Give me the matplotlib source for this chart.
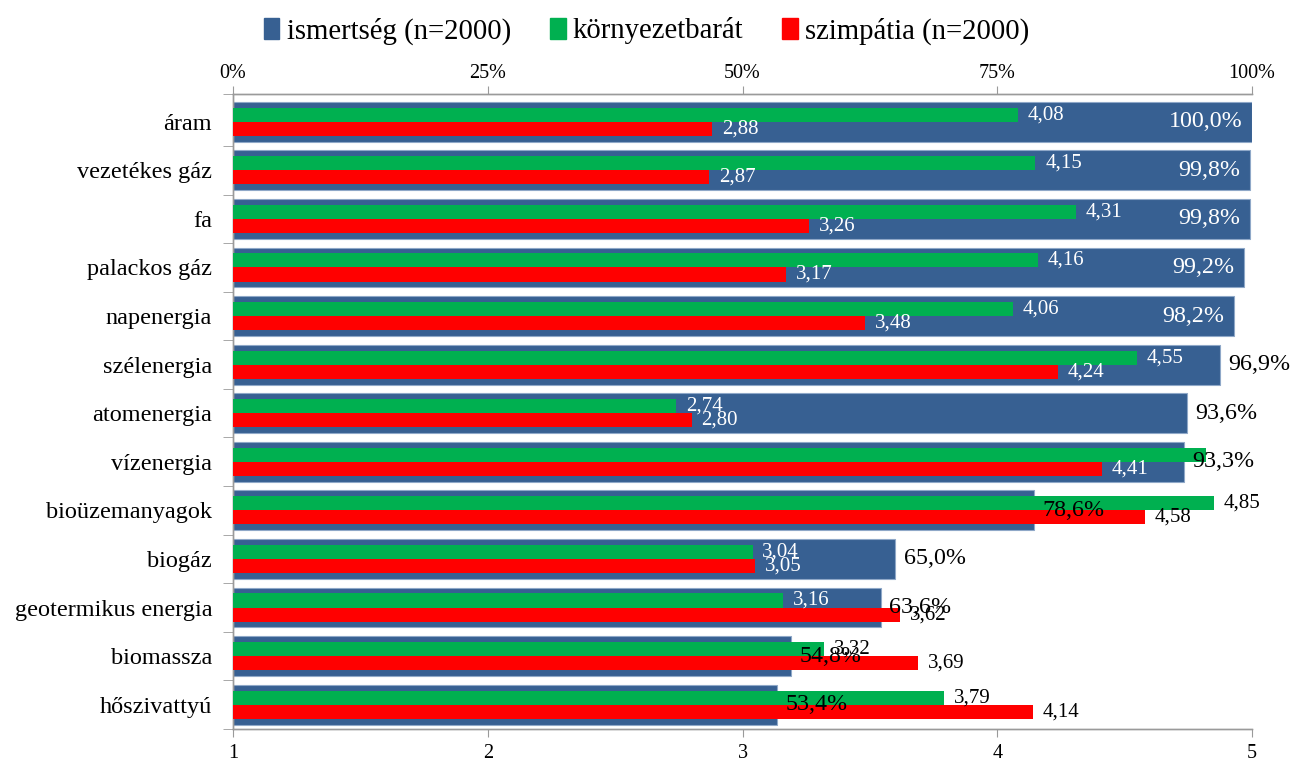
import matplotlib
matplotlib.use("Agg")
import matplotlib.pyplot as plt
import numpy as np

categories = ["áram", "vezetékes gáz", "fa", "palackos gáz", "napenergia",
              "szélenergia", "atomenergia", "vízenergia", "bioüzemanyagok",
              "biogáz", "geotermikus energia", "biomassza", "hőszivattyú"]
ismertseg = [100.0, 99.8, 99.8, 99.2, 98.2, 96.9, 93.6, 93.3, 78.6, 65.0, 63.6, 54.8, 53.4]
kornyezetbarat = [4.08, 4.15, 4.31, 4.16, 4.06, 4.55, 2.74, 4.82, 4.85, 3.04, 3.16, 3.32, 3.79]
szimpatia = [2.88, 2.87, 3.26, 3.17, 3.48, 4.24, 2.80, 4.41, 4.58, 3.05, 3.62, 3.69, 4.14]
green_label_shown = [True] * 7 + [False] + [True] * 5
pct_ticks = [0, 25, 50, 75, 100]
pct_ticklabels = ["0%", "25%", "50%", "75%", "100%"]
score_ticks = [1, 2, 3, 4, 5]

BLUE = "#376092"
GREEN = "#00B050"
RED = "#FF0000"
GRID = "#9a9a9a"

plt.rcParams['font.family'] = ['Liberation Serif', 'DejaVu Serif']

W, H = 1293, 760
fig = plt.figure(figsize=(W / 100, H / 100), dpi=100)
left, right, top, bottom = 233, 1252, 94, 729
ax = fig.add_axes([left / W, 1 - bottom / H, (right - left) / W, (bottom - top) / H])
ax2 = ax.twiny()

n = len(categories)
y = np.arange(n)
ytop = -0.57

# Blue bars on primary axis (top % scale)
ax.barh(y, ismertseg, height=0.82, color=BLUE, edgecolor="#8fa8c8", linewidth=0.8, zorder=2)
ax.set_xlim(0, 100)
ax.set_ylim(n - 0.5, ytop)

# Green / red on twin axis (bottom 1-5 scale)
ax2.barh(y - 0.145, [v - 1 for v in kornyezetbarat], left=1, height=0.29, color=GREEN, zorder=3)
ax2.barh(y + 0.145, [v - 1 for v in szimpatia], left=1, height=0.29, color=RED, zorder=3)
ax2.set_xlim(1, 5)
ax2.set_ylim(n - 0.5, ytop)

# Axis styling
ax.xaxis.tick_top()
ax.set_xticks(pct_ticks)
ax.set_xticklabels(pct_ticklabels)
ax.tick_params(axis='x', which='major', direction='out', length=6, color=GRID, labelsize=14.5, pad=2)
ax2.xaxis.tick_bottom()
ax2.set_xticks(score_ticks)
ax2.tick_params(axis='x', which='major', direction='out', length=6, color=GRID, labelsize=14.5, pad=5)

ax.set_yticks(y)
ax.set_yticklabels(categories, fontsize=17.5)
ax.tick_params(axis='y', which='major', length=0, pad=15)
ax.set_yticks([ytop] + [k + 0.5 for k in range(n)], minor=True)
ax.tick_params(axis='y', which='minor', direction='out', length=7, color=GRID)
ax2.tick_params(axis='y', left=False, labelleft=False, right=False, labelright=False)

for a in (ax, ax2):
    for s in a.spines.values():
        s.set_color(GRID)
        s.set_linewidth(1.0)
    a.spines['right'].set_visible(False)

ax2.patch.set_visible(False)

# Labels for green / red
def score_label(v):
    return f"{v:.2f}".replace('.', ',')

def pct_x(v):
    return 1 + v / 100 * 4

for i in range(n):
    blue_end = pct_x(ismertseg[i])
    if green_label_shown[i]:
        v = kornyezetbarat[i]
        col = "white" if v + 0.3 < blue_end else "black"
        ax2.annotate(score_label(v), (v, i - 0.145), xytext=(7, 0), textcoords='offset points',
                     ha='left', va='center', fontsize=15, color=col, zorder=5)
    v = szimpatia[i]
    col = "white" if v + 0.3 < blue_end else "black"
    ax2.annotate(score_label(v), (v, i + 0.145), xytext=(7, 0), textcoords='offset points',
                 ha='left', va='center', fontsize=15, color=col, zorder=5)

# Percentage labels (drawn on top)
for i in range(n):
    v = ismertseg[i]
    txt = f"{v:.1f}%".replace('.', ',')
    if v >= 98:
        ax2.annotate(txt, (v, i), xycoords=ax.transData, xytext=(-7, 0), textcoords='offset points',
                     ha='right', va='center', fontsize=17.3, color='white', zorder=6)
    else:
        ax2.annotate(txt, (v, i), xycoords=ax.transData, xytext=(6, 0), textcoords='offset points',
                     ha='left', va='center', fontsize=17.3, color='black', zorder=6)

# Legend
from matplotlib.patches import Patch
handles = [Patch(color=BLUE), Patch(color=GREEN), Patch(color=RED)]
labels = ["ismertség (n=2000)", "környezetbarát", "szimpátia (n=2000)"]
fig.legend(handles, labels, loc='center', bbox_to_anchor=(0.5, 1 - 31 / H), ncol=3,
           frameon=False, fontsize=20.7, handlelength=0.55, handleheight=0.75,
           handletextpad=0.25, columnspacing=1.35)

fig.savefig("out.png", dpi=100)
